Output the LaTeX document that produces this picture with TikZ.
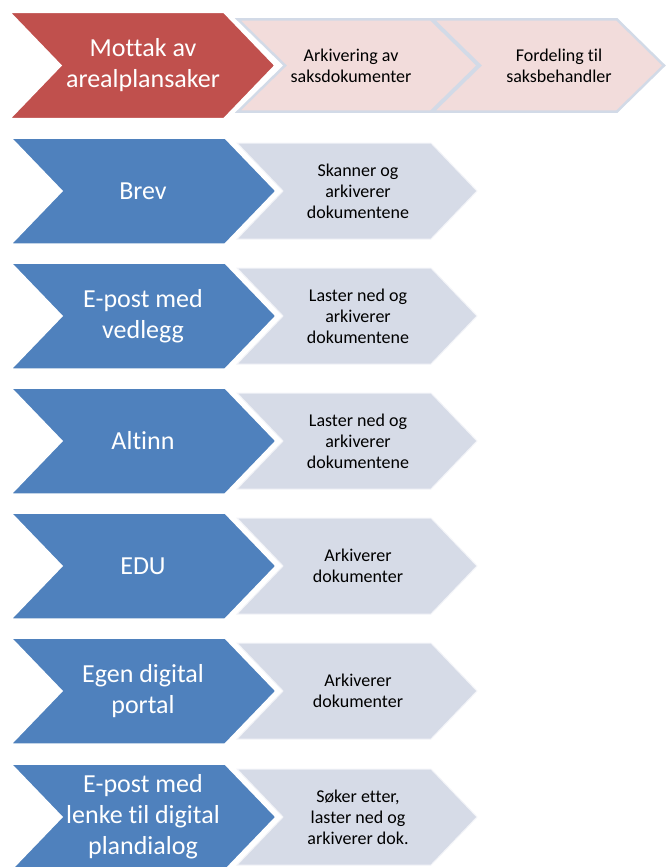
\documentclass[tikz,border=0pt]{standalone}
\usepackage{fontspec}
\setmainfont{Carlito}[Ligatures={NoCommon}]
\usepackage{tikz}
\usetikzlibrary{%
  calc,%
  positioning}

\definecolor{rodpil}{HTML}{C0504D}
\definecolor{blapil}{HTML}{4F81BD}
\definecolor{rosafyll}{HTML}{F2DCDB}
\definecolor{rosakant}{HTML}{D2DAE7}
\definecolor{gryfyll}{HTML}{D6DBE7}

% pil : [stil] {venstre}{spiss}{midt y}{halv hoyde}{dybde}
\newcommand{\pil}[6][]{%
  \draw[#1] (#2,#4-#5) -- (#3-#6,#4-#5) -- (#3,#4) -- (#3-#6,#4+#5)
    -- (#2,#4+#5) -- (#2+#6,#4) -- cycle;}

\tikzset{
  hovedrod/.style={fill=rodpil,draw=white,line width=1.5pt,line join=miter},
  hovedbla/.style={fill=blapil,draw=white,line width=1.5pt,line join=miter},
  delrosa/.style={fill=rosafyll,draw=rosakant,line width=2.5pt,line join=miter},
  delgra/.style={fill=gryfyll,draw=white!70!gryfyll,line width=1pt,line join=miter},
  storttekst/.style={align=center,text=white,font=\fontsize{26}{31}\selectfont},
  litentekst/.style={align=center,text=black,font=\fontsize{18}{21}\selectfont}
}

\begin{document}
\begin{tikzpicture}[x=1pt,y=-1pt]
\useasboundingbox (0,0) rectangle (667,867);
\clip (0,0) rectangle (667,867);
\begin{scope}
% rad 1 : mottak
\pil[delrosa]{238}{478}{65.5}{46}{47}
\pil[delrosa]{433}{664}{65.5}{46}{47}
\pil[hovedrod]{10}{275}{65.5}{53}{51}
\node (M) at (143,65.5) [storttekst] {Mottak av\\arealplansaker};
\node (M1) at (351,65.5) [litentekst] {Arkivering av\\saksdokumenter};
\node (M2) at (559,65.5) [litentekst] {Fordeling til\\saksbehandler};
% rad 2-7 : kanaler
\pil[delgra]{237}{477}{191}{48}{46}
\pil[hovedbla]{11}{276}{191}{53}{51}
\node (B) at (143,191) [storttekst] {Brev};
\node (B1) at (358,191) [litentekst] {Skanner og\\arkiverer\\dokumentene};
\pil[delgra]{237}{477}{316}{48}{46}
\pil[hovedbla]{11}{276}{316}{53}{51}
\node (E) at (143,316) [storttekst] {E-post med\\vedlegg};
\node (E1) at (358,316) [litentekst] {Laster ned og\\arkiverer\\dokumentene};
\pil[delgra]{237}{477}{441}{48}{46}
\pil[hovedbla]{11}{276}{441}{53}{51}
\node (A) at (143,441) [storttekst] {Altinn};
\node (A1) at (358,441) [litentekst] {Laster ned og\\arkiverer\\dokumentene};
\pil[delgra]{237}{477}{566}{48}{46}
\pil[hovedbla]{11}{276}{566}{53}{51}
\node (U) at (143,566) [storttekst] {EDU};
\node (U1) at (358,566) [litentekst] {Arkiverer\\dokumenter};
\pil[delgra]{237}{477}{691}{48}{46}
\pil[hovedbla]{11}{276}{691}{53}{51}
\node (P) at (143,691) [storttekst] {Egen digital\\portal};
\node (P1) at (358,691) [litentekst] {Arkiverer\\dokumenter};
\pil[delgra]{237}{477}{817}{48}{46}
\pil[hovedbla]{11}{276}{817}{53}{51}
\node (L) at (143,817) [storttekst] {E-post med\\lenke til digital\\plandialog};
\node (L1) at (358,817) [litentekst] {Søker etter,\\laster ned og\\arkiverer dok.};
\end{scope}
\end{tikzpicture}
\end{document}
